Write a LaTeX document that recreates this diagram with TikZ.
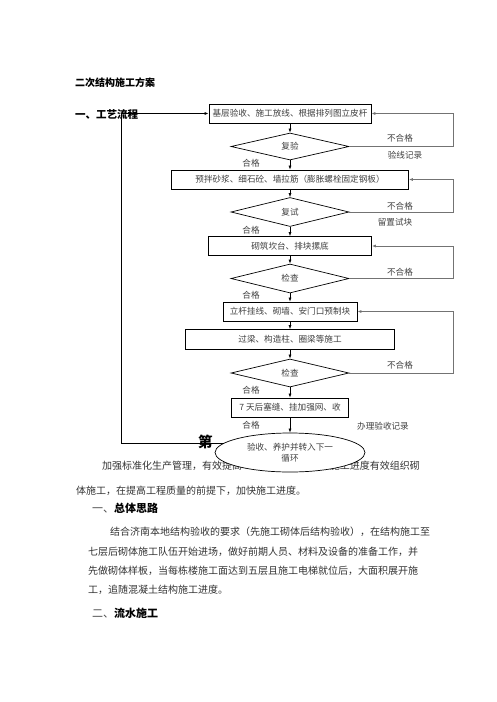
\documentclass[tikz,border=0pt]{standalone}
\usepackage{fontspec}
\setmainfont{Noto Sans CJK SC}
\usetikzlibrary{shapes.geometric,arrows.meta}
\begin{document}
\begin{tikzpicture}[x=1pt,y=-1pt,
 chart/.style={font=\fontsize{8.6}{10.5}\selectfont,text=black!75},
 box/.style={chart,draw=black,line width=0.7pt,inner sep=0pt,minimum height=19pt},
 dia/.style={chart,draw=black,line width=0.7pt,diamond,inner sep=0pt,minimum width=118pt},
 lbl/.style={chart,inner sep=0pt},
 flow/.style={line width=0.6pt,-{Latex[length=4pt,width=3pt]}},
 back/.style={draw=black!55,line width=0.8pt,-{Latex[length=4pt,width=3pt]}},
 body/.style={font=\fontsize{10}{12}\selectfont,text=black!80,inner sep=0pt,anchor=west},
 head/.style={font=\fontsize{11}{13}\selectfont,inner sep=0pt,anchor=west}
]
\fill[white] (0,0) rectangle (496,702);
\useasboundingbox (0,0) rectangle (496,702);

% document text
\node[head,font=\fontsize{10}{12}\bfseries\selectfont] (title) at (75,83) {二次结构施工方案};
\node[head,font=\fontsize{10.5}{12}\bfseries\selectfont] (h1) at (75,114) {一、工艺流程};
\node[head,font=\fontsize{14.5}{16}\bfseries\selectfont] (ch) at (198,442) {第};
\node[body] (p1a) at (102,466) {加强标准化生产管理，有效提高};
\node[body,anchor=east] (p1b) at (420,466) {施工进度有效组织砌};
\node[body] (p1c) at (76,491) {体施工，在提高工程质量的前提下，加快施工进度。};
\node[head] (h2) at (92,508) {{\color{black!70}一、}\textbf{总体思路}};
\node[body] (p2a) at (110,532) {结合济南本地结构验收的要求（先施工砌体后结构验收），在结构施工至};
\node[body] (p2b) at (88,552) {七层后砌体施工队伍开始进场，做好前期人员、材料及设备的准备工作，并};
\node[body] (p2c) at (88,571) {先做砌体样板，当每栋楼施工面达到五层且施工电梯就位后，大面积展开施};
\node[body] (p2d) at (88,590) {工，追随混凝土结构施工进度。};
\node[head] (h3) at (92,613) {{\color{black!70}二、}\textbf{流水施工}};

% flowchart nodes
\node[box,minimum width=162pt] (b1) at (290,113.5) {基层验收、施工放线、根据排列图立皮杆};
\node[dia,minimum height=27pt] (d1) at (290,146.5) {复验};
\node[box,minimum width=237pt] (b2) at (290,179.5) {预拌砂浆、细石砼、墙拉筋（膨胀螺栓固定钢板）};
\node[dia,minimum height=29pt] (d2) at (290,212) {复试};
\node[box,minimum width=163pt] (b3) at (290,246) {砌筑坎台、排块摞底};
\node[dia,minimum height=29pt] (d3) at (290,278.5) {检查};
\node[box,minimum width=134pt] (b4) at (290,311.5) {立杆挂线、砌墙、安门口预制块};
\node[box,minimum width=209pt,minimum height=20pt] (b5) at (290,339.5) {过梁、构造柱、圈梁等施工};
\node[dia,minimum height=28pt] (d4) at (290,373) {检查};
\node[box,minimum width=117pt] (b6) at (290,407.5) {7 天后塞缝、挂加强网、收};

% labels
\node[lbl] (n1) at (400,138) {不合格};
\node[lbl] (r1) at (405,155) {验线记录};
\node[lbl] (g1) at (251,163) {合格};
\node[lbl] (n2) at (400,206) {不合格};
\node[lbl] (r2) at (395,222) {留置试块};
\node[lbl] (g2) at (251,230) {合格};
\node[lbl] (n3) at (400,272) {不合格};
\node[lbl] (g3) at (251,295) {合格};
\node[lbl] (n4) at (400,365) {不合格};
\node[lbl] (g4) at (251,390) {合格};
\node[lbl] (g5) at (251,425) {合格};
\node[lbl,anchor=west] (r3) at (357,426) {办理验收记录};

% main flow
\draw[flow] (b1) -- (d1);
\draw[flow] (d1) -- (b2);
\draw[flow] (b2) -- (d2);
\draw[flow] (d2) -- (b3);
\draw[flow] (b3) -- (d3);
\draw[flow] (d3) -- (b4);
\draw[flow] (b4) -- (b5);
\draw[flow] (b5) -- (d4);
\draw[flow] (d4) -- (b6);

% feedback loops
\draw[back] (d1.east) -- ++(104,0) |- (b1.east);
\draw[back] (d2.east) -- ++(104,0) |- (b2.east);
\draw[back] (d3.east) -- ++(104,0) |- (b3.east);
\draw[back] (d4.east) -- ++(104,0) |- (b4.east);

% ellipse (covers text below it)
\node[chart,draw=black,line width=0.7pt,ellipse,fill=white,minimum width=150pt,minimum height=39pt,inner sep=0pt,align=center] (el) at (290,452.5) {验收、养护并转入下一\\循环};
\draw[flow] (b6) -- (el);

% cycle back
\coordinate (lc) at (121,113.5);
\draw[flow,line width=0.8pt] (el.172) -| (lc) -- (b1.west);
\end{tikzpicture}
\end{document}
